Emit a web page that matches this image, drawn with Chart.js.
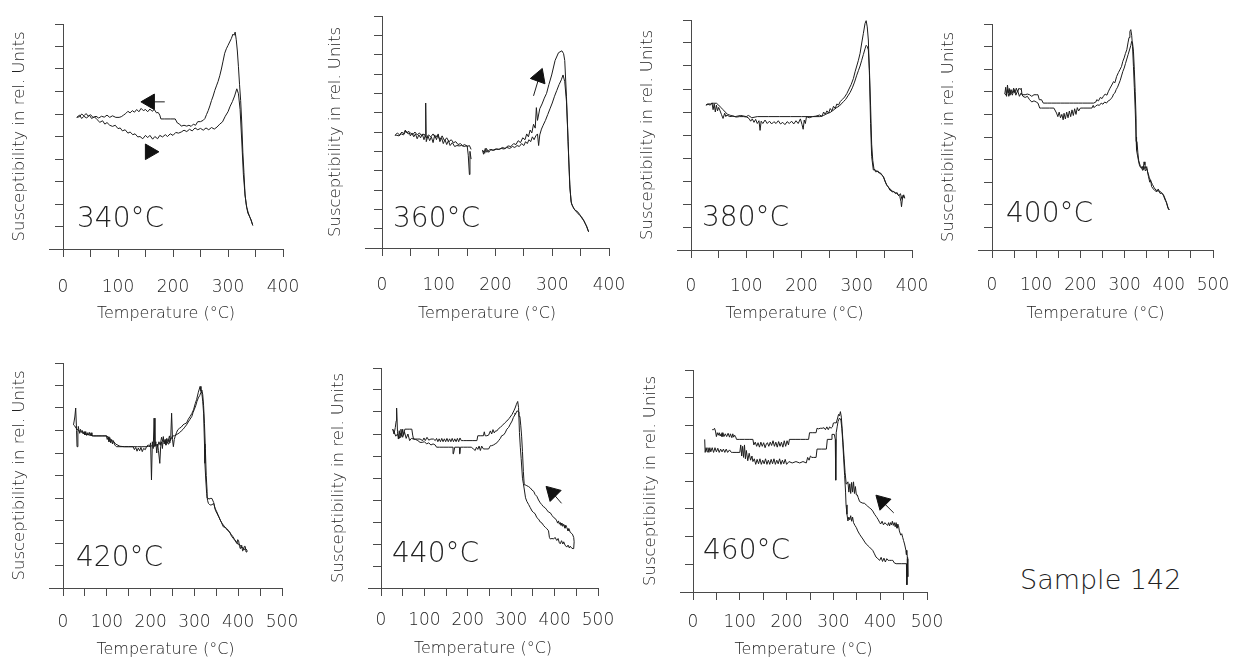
<!DOCTYPE html>
<html>
<head>
<meta charset="utf-8">
<title>Sample 142 - susceptibility vs temperature</title>
<script src="https://cdn.jsdelivr.net/npm/chart.js@4.4.1/dist/chart.umd.min.js"></script>
<style>
    body { margin: 0; background: #fff; }
    #wrap { position: relative; width: 1238px; height: 659px; overflow: hidden; font-family: 'DejaVu Sans', sans-serif; color: #222; }
    #wrap canvas { position: absolute; }
    .lbl { position: absolute; white-space: nowrap; font-weight: 200; }
</style>
</head>
<body>
<div id="wrap"></div>
<script>
// tick values on the temperature axis
const xTicks400 = [0, 50, 100, 150, 200, 250, 300, 350, 400];
const xTicks500 = [0, 50, 100, 150, 200, 250, 300, 350, 400, 450, 500];

// [temperature °C, susceptibility (rel. units)]
const heat340 = [[25,5.85],[30,5.95],[34,5.8],[38,5.9],[43,5.82],[48,5.95],[52,5.8],[57,5.88],[62,5.75],[67,5.63],[72,5.7],[76,5.55],[80,5.62],[85,5.5],[90,5.45],[95,5.5],[100,5.35],[104,5.38],[108,5.25],[113,5.3],[118,5.15],[122,5.2],[127,5.08],[131,5.12],[136,4.98],[140,5.0],[145,4.9],[150,5.05],[154,4.95],[158,5.05],[163,4.88],[167,5.0],[172,4.9],[176,5.05],[181,4.98],[186,5.08],[190,5.0],[195,5.12],[200,5.05],[205,5.18],[210,5.15],[215,5.2],[220,5.28],[225,5.22],[230,5.32],[235,5.25],[240,5.38],[245,5.3],[250,5.36],[255,5.28],[260,5.38],[265,5.3],[270,5.4],[275,5.33],[280,5.42],[285,5.55],[290,5.65],[295,5.9],[300,6.1],[304,6.35],[308,6.55],[312,6.8],[316,7.12],[319,6.9],[322,6.2],[325,4.8],[328,3.3],[331,2.4],[334,1.85],[337,1.6],[340,1.4],[343,1.2],[345,1.05]];
const cool340 = [[345,1.05],[342,1.3],[339,1.45],[336,1.6],[333,2.0],[331,2.4],[329,3.4],[327,4.3],[325,5.6],[323,6.6],[321,7.3],[319,8.1],[317,8.8],[315,9.3],[313,9.64],[311,9.5],[309,9.55],[306,9.35],[303,9.2],[300,9.05],[297,8.9],[294,8.7],[291,8.35],[288,8.0],[285,7.7],[282,7.45],[279,7.25],[276,7.05],[273,6.8],[270,6.6],[267,6.36],[264,6.15],[261,5.98],[258,5.8],[255,5.72],[250,5.66],[245,5.66],[241,5.5],[237,5.55],[233,5.45],[229,5.5],[225,5.46],[220,5.5],[215,5.46],[212,5.55],[208,5.6],[204,5.78],[195,5.78],[185,5.78],[178,5.78],[176,5.95],[173,6.07],[170,6.05],[166,6.2],[162,6.12],[158,6.22],[154,6.1],[150,6.2],[146,6.15],[142,6.25],[138,6.1],[134,6.2],[130,6.08],[126,6.15],[122,6.05],[118,6.12],[114,6.02],[110,5.95],[106,5.88],[102,5.85],[96,5.85],[90,5.92],[85,5.85],[80,5.95],[75,5.86],[70,5.9],[65,5.82],[60,5.9],[55,5.84],[50,5.97],[46,5.9],[42,6.02],[38,5.92],[34,6.0],[30,5.88],[25,5.85]];

const heat360 = [[23,5.83],[27,5.95],[31,5.85],[35,6.0],[38,5.9],[41,6.1],[44,5.95],[47,6.05],[50,5.8],[53,5.95],[56,5.75],[59,5.9],[62,5.65],[65,5.85],[68,5.7],[71,5.9],[74,5.6],[76,5.8],[77,7.5],[78,5.5],[81,5.8],[84,5.55],[87,5.75],[90,5.45],[93,5.85],[96,5.6],[99,5.9],[102,5.5],[105,5.7],[108,5.4],[111,5.6],[114,5.35],[117,5.55],[120,5.3],[124,5.45],[128,5.25],[132,5.3],[136,5.28],[140,5.3],[145,5.25],[150,5.3],[152,4.8],[154,3.8],[155,5.0],[157,4.6],[166,null],
    [177,5.07],[181,4.9],[184,5.15],[188,4.95],[192,5.1],[197,5.05],[202,5.12],[207,5.1],[212,5.2],[217,5.15],[222,5.28],[227,5.25],[232,5.4],[236,5.35],[240,5.55],[244,5.45],[248,5.7],[252,5.6],[255,5.9],[258,5.75],[261,6.1],[264,5.95],[267,6.4],[270,6.2],[272,7.26],[274,6.6],[278,7.2],[282,7.45],[286,7.75],[290,8.0],[294,8.45],[299,8.95],[305,9.7],[311,10.1],[317,10.2],[320,10.05],[322,9.7],[325,7.85],[328,5.5],[331,3.1],[334,2.28],[338,2.05],[343,1.86],[348,1.7],[352,1.6],[355,1.45],[358,1.27],[361,1.1],[364,0.84]];
const cool360 = [[364,0.84],[360,1.15],[356,1.4],[352,1.55],[348,1.75],[344,1.9],[340,1.95],[336,2.15],[333,2.4],[331,3.3],[329,4.6],[327,6.2],[325,7.6],[322,8.6],[319,8.95],[316,8.7],[312,8.45],[308,8.15],[304,7.85],[300,7.5],[296,7.2],[292,6.9],[288,6.6],[284,6.35],[281,6.15],[278,5.85],[276,5.3],[274,5.9],[271,5.8],[268,5.6],[265,5.75],[262,5.5],[259,5.6],[256,5.4],[253,5.5],[250,5.3],[246,5.4],[242,5.25],[238,5.3],[234,5.2],[230,5.25],[225,5.15],[220,5.2],[215,5.12],[210,5.15],[205,5.1],[200,5.12],[195,5.05],[190,5.1],[185,4.95],[182,5.15],[179,4.85],[177,5.05],[166,null],
    [157,5.1],[154,5.3],[150,5.25],[146,5.35],[142,5.3],[138,5.4],[134,5.35],[130,5.5],[126,5.45],[122,5.6],[118,5.5],[114,5.7],[110,5.55],[106,5.8],[102,5.6],[98,5.85],[94,5.7],[90,5.9],[86,5.75],[82,5.85],[78,5.7],[74,5.9],[70,5.8],[66,5.95],[62,5.85],[58,6.0],[54,5.85],[50,5.95],[46,5.9],[42,6.05],[38,5.85],[34,5.9],[30,5.8],[26,5.83],[23,5.83]];

const heat380 = [[27,6.3],[31,6.33],[35,6.3],[38,6.4],[40,6.1],[42,6.35],[44,6.0],[46,6.3],[48,6.05],[50,6.2],[52,6.09],[55,5.9],[58,5.72],[61,5.95],[63,5.8],[65,5.87],[70,5.8],[76,5.82],[82,5.78],[88,5.8],[95,5.8],[101,5.78],[105,5.72],[108,5.6],[111,5.7],[114,5.55],[117,5.68],[120,5.5],[123,5.62],[125,5.2],[127,5.6],[130,5.5],[134,5.65],[138,5.5],[142,5.6],[146,5.48],[150,5.58],[154,5.5],[158,5.62],[162,5.48],[166,5.55],[170,5.45],[174,5.58],[178,5.5],[182,5.6],[186,5.48],[190,5.62],[194,5.5],[198,5.7],[201,5.45],[203,5.25],[205,5.65],[207,5.5],[209,5.8],[214,5.75],[220,5.8],[226,5.82],[233,5.87],[237,5.8],[240,6.0],[243,5.9],[246,6.05],[249,5.95],[252,6.15],[255,6.05],[258,6.25],[261,6.15],[264,6.35],[267,6.3],[270,6.45],[274,6.55],[278,6.65],[282,6.8],[286,7.0],[290,7.2],[294,7.46],[297,7.75],[300,8.0],[303,8.25],[306,8.55],[309,9.0],[312,9.42],[315,9.85],[317,9.97],[319,9.7],[321,9.13],[323,7.6],[325,5.5],[327,4.06],[330,3.48],[333,3.5],[336,3.4],[339,3.42],[342,3.33],[345,3.28],[348,3.19],[351,3.0],[354,2.83],[357,2.75],[360,2.6],[363,2.58],[366,2.54],[369,2.5],[372,2.46],[375,2.4],[378,2.32],[380,2.1],[381,1.88],[383,2.3],[384,2.39],[386,2.25],[387,2.25]];
const cool380 = [[387,2.25],[385,2.4],[382,2.2],[379,2.45],[376,2.35],[373,2.5],[370,2.45],[367,2.55],[364,2.52],[361,2.65],[358,2.7],[355,2.8],[352,2.95],[349,3.15],[346,3.25],[343,3.35],[340,3.35],[337,3.45],[334,3.4],[331,3.55],[329,3.9],[327,4.6],[325,6.3],[323,7.8],[321,8.7],[319,8.85],[317,8.9],[315,8.75],[312,8.5],[309,8.25],[306,8.0],[303,7.8],[300,7.6],[296,7.3],[292,7.05],[288,6.85],[284,6.7],[280,6.55],[276,6.45],[272,6.35],[268,6.25],[264,6.2],[260,6.12],[256,6.05],[252,5.98],[248,5.95],[244,5.9],[240,5.85],[233,5.8],[220,5.8],[200,5.8],[180,5.8],[160,5.8],[140,5.8],[120,5.8],[110,5.75],[104,5.85],[100,5.8],[90,5.85],[80,5.8],[72,5.85],[66,5.9],[62,6.0],[58,6.1],[54,6.2],[50,6.3],[46,6.38],[40,6.38],[35,6.35],[30,6.35],[27,6.3]];

const heat400 = [[29,6.9],[31,7.2],[33,6.8],[35,7.3],[37,6.95],[39,7.15],[41,6.85],[43,7.1],[46,6.95],[49,7.16],[52,6.95],[55,7.16],[58,7.0],[61,7.16],[64,7.1],[66,7.16],[68,6.87],[75,6.87],[80,6.9],[85,6.87],[90,6.8],[95,6.87],[100,6.87],[104,6.87],[107,6.65],[112,6.65],[116,6.5],[125,6.5],[135,6.5],[145,6.5],[155,6.5],[165,6.5],[175,6.5],[185,6.5],[195,6.5],[205,6.5],[215,6.5],[222,6.5],[230,6.5],[235,6.55],[237,6.65],[241,6.6],[245,6.75],[249,6.7],[252,6.8],[256,6.9],[260,6.85],[263,7.0],[267,7.16],[271,7.3],[275,7.45],[278,7.4],[282,7.68],[286,7.85],[290,8.0],[293,8.12],[296,8.35],[299,8.5],[302,8.7],[305,8.86],[308,9.2],[310,9.4],[312,9.67],[314,9.75],[316,9.5],[318,9.0],[320,8.12],[322,7.2],[324,6.2],[326,5.0],[327,4.43],[329,4.2],[331,3.99],[333,3.8],[335,3.69],[338,3.62],[340,3.7],[342,3.55],[344,3.9],[346,3.77],[348,3.6],[350,3.69],[352,3.45],[354,3.25],[357,3.0],[359,3.1],[361,2.81],[365,2.7],[369,2.62],[373,2.58],[376,2.7],[380,2.51],[384,2.5],[388,2.44],[391,2.3],[393,2.2],[395,2.07],[398,1.9],[401,1.77]];
const cool400 = [[401,1.77],[398,1.85],[395,2.1],[392,2.2],[389,2.35],[386,2.5],[383,2.55],[379,2.6],[375,2.62],[371,2.65],[367,2.75],[363,2.9],[359,3.05],[356,3.2],[353,3.4],[350,3.6],[347,3.5],[344,3.7],[341,3.52],[338,3.65],[335,3.75],[332,3.95],[330,4.3],[328,4.8],[326,5.8],[324,7.0],[322,8.0],[320,8.8],[318,9.15],[316,9.23],[314,9.05],[311,8.85],[308,8.65],[305,8.45],[302,8.25],[299,8.05],[296,7.9],[293,7.7],[290,7.5],[287,7.35],[284,7.2],[281,7.1],[278,6.95],[275,6.9],[272,6.75],[269,6.7],[266,6.62],[263,6.6],[259,6.5],[255,6.55],[251,6.45],[247,6.5],[243,6.4],[239,6.42],[235,6.38],[231,6.3],[229,6.4],[226,6.28],[222,6.28],[215,6.28],[208,6.28],[200,6.28],[196,6.15],[193,6.3],[190,6.0],[187,6.25],[184,5.95],[181,6.2],[178,5.9],[175,6.15],[172,5.85],[169,6.1],[166,5.8],[163,6.05],[161,5.76],[158,6.0],[155,5.85],[152,6.1],[149,5.9],[146,6.06],[140,6.28],[130,6.28],[120,6.28],[112,6.28],[108,6.28],[104,6.5],[100,6.55],[95,6.6],[90,6.55],[85,6.65],[80,6.8],[75,6.75],[70,6.8],[66,6.95],[62,6.8],[58,7.05],[54,6.85],[50,7.1],[46,6.85],[42,7.05],[38,6.8],[35,7.1],[32,6.85],[29,6.9]];

const heat420 = [[24,7.25],[27,7.6],[29,8.0],[31,7.0],[32,6.28],[34,6.9],[35,7.18],[37,6.95],[38,6.88],[40,7.05],[42,6.95],[44,7.0],[46,6.85],[48,6.95],[50,6.8],[52,6.95],[54,6.78],[56,6.9],[58,6.8],[60,6.92],[62,6.78],[64,6.9],[66,6.76],[70,6.76],[76,6.76],[82,6.76],[88,6.76],[94,6.76],[99,6.76],[101,6.6],[103,6.72],[105,6.5],[107,6.68],[109,6.45],[111,6.6],[113,6.4],[115,6.55],[118,6.36],[122,6.28],[130,6.28],[140,6.28],[150,6.28],[160,6.28],[163,6.15],[166,6.25],[169,6.08],[172,6.22],[175,6.1],[178,6.25],[181,6.06],[184,6.2],[188,6.15],[191,6.3],[195,6.36],[198,6.3],[200,6.45],[202,4.8],[204,6.5],[206,6.2],[208,7.55],[210,6.3],[212,6.5],[214,6.0],[216,6.4],[218,6.1],[221,5.54],[223,6.3],[225,6.5],[227,6.2],[229,6.73],[231,6.4],[233,6.6],[235,6.35],[237,6.55],[240,6.4],[242,6.6],[244,6.45],[246,6.7],[248,7.77],[250,6.6],[252,6.28],[254,6.6],[256,6.73],[259,6.9],[262,7.03],[266,7.1],[270,7.15],[274,7.25],[278,7.3],[282,7.33],[286,7.5],[290,7.62],[294,7.75],[298,7.92],[302,8.2],[305,8.37],[309,8.7],[313,8.96],[315,8.75],[317,8.66],[319,8.3],[321,7.77],[323,6.4],[324,5.54],[326,4.8],[328,4.2],[330,3.9],[332,3.76],[334,3.72],[336,3.69],[340,3.7],[344,3.76],[347,3.55],[351,3.39],[355,3.2],[359,3.02],[362,2.9],[366,2.72],[370,2.7],[374,2.64],[378,2.55],[382,2.42],[385,2.3],[389,2.2],[393,2.1],[397,1.98],[399,2.15],[401,2.1],[403,1.85],[405,1.75],[408,1.9],[410,1.65],[412,1.68],[414,1.85],[416,1.85],[418,1.6],[420,1.68]];
const cool420 = [[420,1.68],[417,1.75],[414,1.7],[411,1.8],[408,1.78],[405,1.9],[402,1.95],[399,1.95],[396,2.05],[392,2.15],[388,2.28],[384,2.38],[380,2.5],[376,2.55],[372,2.65],[368,2.75],[364,2.85],[360,2.98],[356,3.15],[352,3.3],[348,3.45],[344,3.8],[340,3.98],[336,3.98],[333,3.95],[331,4.0],[329,4.3],[327,5.0],[325,6.2],[323,7.3],[321,8.1],[319,8.6],[317,8.8],[315,8.7],[312,8.55],[309,8.45],[306,8.3],[303,8.1],[300,7.95],[297,7.8],[294,7.62],[290,7.5],[286,7.38],[282,7.25],[278,7.15],[274,7.05],[270,6.98],[266,6.9],[262,6.85],[258,6.8],[254,6.76],[250,6.76],[245,6.55],[243,6.76],[240,6.5],[237,6.65],[234,6.45],[231,6.55],[228,6.5],[225,6.7],[222,6.35],[219,6.5],[216,6.28],[212,6.4],[208,6.28],[204,6.35],[200,6.28],[196,6.3],[190,6.28],[180,6.28],[170,6.28],[160,6.28],[150,6.28],[140,6.28],[130,6.3],[120,6.4],[116,6.5],[112,6.55],[108,6.6],[104,6.68],[100,6.76],[90,6.76],[80,6.76],[70,6.76],[60,6.8],[50,6.85],[45,6.9],[40,6.95],[35,7.0],[30,7.1],[27,7.2],[24,7.25]];

const heat440 = [[27,7.22],[30,7.0],[33,7.3],[35,7.6],[36,8.18],[38,7.1],[40,6.77],[42,7.15],[44,6.85],[46,7.22],[48,6.9],[50,7.22],[52,6.95],[55,7.22],[60,7.22],[65,7.22],[71,7.22],[73,6.95],[75,6.77],[80,6.77],[85,6.77],[90,6.77],[96,6.7],[99,6.82],[102,6.7],[106,6.85],[110,6.72],[115,6.77],[121,6.77],[125,6.7],[128,6.8],[131,6.65],[134,6.78],[137,6.65],[140,6.8],[143,6.65],[146,6.78],[149,6.65],[152,6.8],[155,6.65],[158,6.78],[161,6.65],[164,6.8],[167,6.65],[170,6.78],[173,6.65],[176,6.8],[179,6.65],[182,6.82],[185,6.7],[190,6.7],[198,6.7],[210,6.7],[221,6.7],[223,6.92],[230,6.92],[236,6.92],[238,7.1],[240,6.92],[244,6.92],[248,6.95],[252,7.14],[255,7.0],[258,7.2],[261,7.05],[264,7.14],[267,7.14],[271,7.25],[275,7.3],[280,7.4],[285,7.5],[290,7.59],[295,7.7],[302,7.89],[306,8.05],[309,8.18],[312,8.35],[315,8.48],[317,8.2],[319,7.07],[321,6.4],[323,5.88],[326,4.99],[328,4.75],[330,4.5],[333,4.1],[336,3.94],[340,3.8],[344,3.65],[348,3.5],[352,3.42],[355,3.38],[359,3.2],[363,3.13],[367,3.0],[371,2.95],[375,2.83],[379,2.75],[382,2.7],[386,2.6],[388,2.3],[390,2.23],[394,2.25],[398,2.23],[401,2.3],[405,2.16],[408,2.25],[411,2.05],[413,2.01],[416,2.15],[419,2.0],[421,2.1],[424,1.95],[428,1.86],[431,1.95],[434,1.82],[436,1.9],[440,1.8],[444,1.79]];
const cool440 = [[444,1.79],[445,2.1],[444,2.3],[441,2.45],[438,2.5],[436,2.53],[433,2.7],[431,2.6],[428,2.75],[426,2.85],[424,2.72],[421,2.9],[419,2.8],[417,2.95],[415,2.85],[413,2.98],[411,2.9],[409,3.05],[407,2.95],[405,3.05],[402,3.15],[398,3.2],[394,3.3],[390,3.42],[386,3.45],[382,3.55],[378,3.65],[374,3.7],[370,3.8],[367,3.87],[363,4.0],[359,4.17],[355,4.25],[352,4.39],[348,4.45],[344,4.55],[340,4.61],[336,4.65],[332,4.69],[330,4.69],[328,5.3],[326,6.2],[324,6.9],[322,7.4],[320,7.8],[318,8.0],[316,8.04],[313,8.04],[311,7.95],[309,7.89],[305,7.75],[302,7.59],[298,7.45],[294,7.3],[290,7.22],[286,7.05],[282,6.95],[278,6.92],[275,6.8],[271,6.7],[267,6.6],[263,6.55],[259,6.5],[255,6.47],[252,6.47],[248,6.32],[244,6.32],[240,6.32],[236,6.32],[232,6.45],[229,6.25],[226,6.45],[223,6.3],[220,6.4],[217,6.25],[213,6.32],[208,6.4],[200,6.4],[190,6.4],[183,6.4],[182,6.1],[181,6.4],[170,6.4],[167,6.1],[166,6.4],[155,6.4],[145,6.4],[135,6.4],[128,6.4],[125,6.5],[120,6.55],[115,6.5],[110,6.6],[105,6.55],[100,6.65],[95,6.62],[90,6.62],[85,6.7],[80,6.75],[75,6.77],[70,6.8],[66,6.7],[62,7.0],[58,6.8],[54,7.1],[50,6.85],[46,7.05],[42,6.8],[38,7.0],[34,6.9],[30,7.1],[27,7.22]];

const heat460 = [[25,5.5],[26,5.03],[28,5.2],[30,5.05],[32,5.2],[34,5.03],[36,5.2],[38,5.05],[41,5.2],[44,5.03],[47,5.2],[50,5.05],[53,5.18],[56,5.03],[59,5.15],[62,5.05],[65,5.15],[68,5.03],[71,5.15],[74,5.03],[78,5.12],[82,5.03],[85,5.03],[92,5.03],[100,5.03],[102,5.3],[104,4.9],[106,5.25],[108,4.85],[110,5.3],[112,4.8],[114,5.1],[117,4.73],[120,5.0],[123,4.75],[126,4.9],[128,4.7],[131,4.8],[134,4.6],[137,4.78],[140,4.62],[143,4.8],[146,4.6],[149,4.75],[152,4.62],[155,4.8],[158,4.6],[161,4.75],[164,4.6],[167,4.78],[170,4.62],[173,4.8],[176,4.6],[179,4.75],[182,4.62],[185,4.8],[188,4.6],[191,4.75],[194,4.62],[197,4.78],[200,4.6],[205,4.7],[212,4.65],[220,4.7],[228,4.65],[235,4.7],[242,4.65],[245,4.85],[248,4.75],[251,4.9],[254,4.85],[258,4.85],[263,4.85],[265,5.15],[275,5.15],[285,5.15],[287,5.5],[295,5.5],[297,5.68],[302,5.68],[304,5.5],[305,4.03],[306,5.74],[308,5.95],[310,6.15],[313,6.27],[316,6.2],[318,5.9],[320,5.4],[322,4.79],[324,4.2],[326,3.6],[327,3.14],[329,2.8],[331,2.56],[333,2.7],[335,2.6],[337,2.75],[339,2.55],[341,2.7],[343,2.5],[346,2.4],[349,2.32],[352,2.2],[356,2.08],[360,1.98],[363,1.91],[367,1.8],[370,1.73],[377,1.62],[384,1.5],[387,1.4],[391,1.26],[395,1.2],[399,1.14],[402,1.25],[405,1.1],[408,1.22],[411,1.08],[414,1.2],[417,1.14],[420,1.14],[424,1.14],[427,1.14],[430,1.05],[434,1.02],[445,1.02],[456,1.02],[457,0.26],[458,1.2],[459,0.55]];
const cool460 = [[459,0.55],[459,1.26],[458,1.1],[457,1.5],[456,1.35],[455,1.5],[452,1.73],[450,1.85],[448,1.97],[446,2.1],[444,2.05],[441,2.2],[439,2.4],[438,2.44],[436,2.3],[434,2.5],[432,2.35],[430,2.5],[428,2.4],[426,2.55],[424,2.42],[422,2.5],[420,2.38],[418,2.5],[416,2.4],[413,2.44],[410,2.5],[407,2.42],[404,2.55],[401,2.45],[399,2.5],[396,2.6],[393,2.68],[391,2.73],[388,2.8],[384,2.92],[380,3.0],[377,3.03],[373,3.1],[370,3.14],[366,3.2],[363,3.2],[359,3.23],[356,3.26],[353,3.4],[351,3.5],[349,3.5],[347,3.8],[345,3.55],[343,3.97],[341,3.6],[339,3.95],[337,3.55],[335,3.9],[333,3.6],[331,3.97],[329,3.9],[327,3.97],[325,4.3],[323,4.8],[321,5.3],[319,5.8],[317,6.3],[315,6.5],[313,6.35],[311,6.4],[309,6.27],[306,6.09],[303,6.1],[300,6.09],[298,5.95],[295,5.9],[292,5.95],[289,5.85],[286,5.95],[283,5.85],[280,5.92],[276,5.9],[272,5.9],[268,5.88],[265,5.9],[263,5.74],[256,5.74],[249,5.74],[247,5.5],[240,5.5],[230,5.5],[220,5.5],[206,5.5],[204,5.3],[201,5.45],[198,5.25],[195,5.45],[192,5.22],[189,5.4],[186,5.25],[183,5.42],[180,5.22],[177,5.4],[174,5.25],[171,5.45],[168,5.28],[165,5.4],[162,5.25],[159,5.38],[157,5.35],[154,5.2],[151,5.38],[148,5.25],[145,5.4],[142,5.22],[139,5.38],[136,5.25],[133,5.4],[130,5.3],[128,5.5],[120,5.5],[110,5.5],[100,5.5],[93,5.5],[91,5.6],[89,5.65],[87,5.58],[85,5.7],[83,5.56],[80,5.7],[78,5.58],[75,5.72],[72,5.6],[69,5.7],[66,5.6],[64,5.74],[62,5.6],[60,5.7],[58,5.62],[56,5.74],[54,5.65],[52,5.74],[50,5.6],[48,5.8],[46,5.9],[44,5.85],[41,5.85]];

// direction arrows: [tail, head] in data units
const arrow340cool = [[185,6.54],[158,6.54]];
const arrow340heat = [[158,4.32]];
const arrow360 = [[267,7.87],[277,8.85]];
const arrow440 = [[416,3.85],[395,4.33]];
const arrow460 = [[429,2.85],[404.5,3.26]];

const LINE = '#1c1c1c';
const AXIS = '#4a4a4a';
const TEXT = '#222';
const FONT = "'DejaVu Sans', sans-serif";
const PAD_L = 45, PAD_T = 6, PAD_R = 22;

// box: pixel frame of each small plot; tickPad / axisH place the tick labels and the axis title
const panels = [
    { label: '340°C', heat: heat340, cool: cool340, xMax: 400, yMax: 10, ticks: xTicks400,
      arrows: [{ pts: arrow340cool, rot: -90 }, { pts: arrow340heat, rot: 90 }],
      box: { zero: 63, end: 283, top: 20, bottom: 249, ext: 14, tickPad: 20, axisH: 76 }, lab: [77, 228] },
    { label: '360°C', heat: heat360, cool: cool360, xMax: 400, yMax: 12, ticks: xTicks400,
      arrows: [{ pts: arrow360, rot: 20 }],
      box: { zero: 382, end: 609, top: 12, bottom: 248, ext: 17, tickPad: 19, axisH: 77 }, lab: [393, 228] },
    { label: '380°C', heat: heat380, cool: cool380, xMax: 400, yMax: 10, ticks: xTicks400,
      arrows: [],
      box: { zero: 691, end: 912, top: 20, bottom: 250, ext: 14, tickPad: 18, axisH: 75 }, lab: [702, 227] },
    { label: '400°C', heat: heat400, cool: cool400, xMax: 500, yMax: 10, ticks: xTicks500,
      arrows: [],
      box: { zero: 992, end: 1213, top: 24, bottom: 250, ext: 14, tickPad: 17, axisH: 75 }, lab: [1006, 223] },
    { label: '420°C', heat: heat420, cool: cool420, xMax: 500, yMax: 10, ticks: xTicks500,
      arrows: [],
      box: { zero: 63, end: 282, top: 363, bottom: 588, ext: 14, tickPad: 16, axisH: 73 }, lab: [76, 567] },
    { label: '440°C', heat: heat440, cool: cool440, xMax: 500, yMax: 10, ticks: xTicks500,
      arrows: [{ pts: arrow440, rot: -45 }],
      box: { zero: 381, end: 598, top: 364, bottom: 588, ext: 13, tickPad: 14, axisH: 72 }, lab: [392, 563] },
    { label: '460°C', heat: heat460, cool: cool460, xMax: 500, yMax: 8, ticks: xTicks500,
      arrows: [{ pts: arrow460, rot: -45 }],
      box: { zero: 693, end: 927, top: 366, bottom: 592, ext: 13, tickPad: 12, axisH: 69 }, lab: [703, 560] }
];

const wrap = document.getElementById('wrap');
const pts = arr => arr.map(([x, y]) => ({ x, y }));

function addLabel(text, left, baseline, size) {
    const d = document.createElement('div');
    d.className = 'lbl';
    d.textContent = text;
    d.style.fontSize = size + 'px';
    d.style.lineHeight = size + 'px';
    d.style.left = left + 'px';
    d.style.top = (baseline - 0.846 * size) + 'px';
    wrap.appendChild(d);
}

panels.forEach(p => {
    const b = p.box;
    const pxPerUnit = (b.end - b.zero) / p.xMax;
    const xMin = -b.ext / pxPerUnit;
    const chartLeft = b.zero - b.ext;

    const cv = document.createElement('canvas');
    cv.width = b.end - chartLeft + PAD_L + PAD_R;
    cv.height = b.bottom - b.top + PAD_T + b.axisH;
    cv.style.left = (chartLeft - PAD_L) + 'px';
    cv.style.top = (b.top - PAD_T) + 'px';
    wrap.appendChild(cv);

    const curve = arr => ({
        data: pts(arr), showLine: true, borderColor: LINE, borderWidth: 1,
        pointRadius: 0, spanGaps: false
    });

    const arrowSets = p.arrows.map(a => ({
        data: pts(a.pts), showLine: true, borderColor: LINE, borderWidth: 1,
        pointStyle: 'triangle',
        pointRadius: a.pts.map((_, i) => i === a.pts.length - 1 ? 9 : 0),
        pointRotation: a.rot,
        pointBackgroundColor: '#111', pointBorderColor: '#111', pointBorderWidth: 1
    }));

    new Chart(cv.getContext('2d'), {
        type: 'scatter',
        data: { datasets: [curve(p.heat), curve(p.cool), ...arrowSets] },
        options: {
            responsive: false,
            animation: false,
            events: [],
            layout: { padding: { left: 0, top: PAD_T, right: PAD_R, bottom: 0 } },
            plugins: { legend: { display: false }, tooltip: { enabled: false } },
            scales: {
                x: {
                    type: 'linear', position: 'bottom', min: xMin, max: p.xMax,
                    afterBuildTicks: s => { s.ticks = p.ticks.map(v => ({ value: v })); },
                    afterFit: s => { s.height = b.axisH; s.paddingLeft = 0; s.paddingRight = 0; },
                    grid: { drawOnChartArea: false, drawTicks: true, tickLength: 8, color: AXIS },
                    border: { color: AXIS, width: 1 },
                    ticks: {
                        autoSkip: false, maxRotation: 0, minRotation: 0, padding: b.tickPad, color: TEXT,
                        font: { family: FONT, size: 17, weight: '200' },
                        callback: v => (v % 100 === 0 ? String(v) : '')
                    },
                    title: {
                        display: true, text: 'Temperature (°C)', color: TEXT,
                        font: { family: FONT, size: 16, weight: '200' },
                        padding: { top: 0, bottom: 2 }
                    }
                },
                y: {
                    type: 'linear', axis: 'y', position: { x: 0 }, min: 0, max: p.yMax,
                    ticks: { display: false, stepSize: 1 },
                    grid: { drawOnChartArea: false, drawTicks: true, tickLength: 8, color: AXIS },
                    border: { color: AXIS, width: 1 }
                },
                yt: {
                    type: 'linear', axis: 'y', position: 'left', min: 0, max: 1,
                    ticks: { display: false },
                    grid: { display: false },
                    border: { display: false },
                    afterFit: s => { s.width = PAD_L; },
                    title: {
                        display: true, text: 'Susceptibility in rel. Units', color: TEXT,
                        font: { family: FONT, size: 16.5, weight: '200' },
                        padding: { top: 6, bottom: 0 }
                    }
                }
            }
        }
    });

    addLabel(p.label, p.lab[0], p.lab[1], 28);
});

addLabel('Sample 142', 1020, 589, 27);
</script>
</body>
</html>
